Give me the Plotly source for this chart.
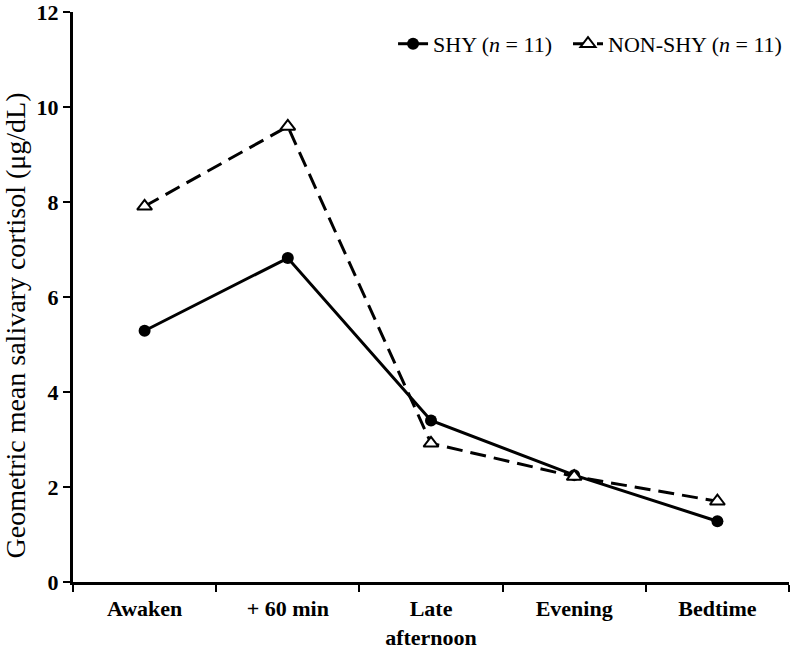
import plotly.graph_objects as go

categories = ["Awaken", "+ 60 min", "Late<br>afternoon", "Evening", "Bedtime"]
shy_values = [5.29, 6.82, 3.40, 2.25, 1.28]
nonshy_values = [7.91, 9.59, 2.92, 2.22, 1.70]
y_ticks = [0, 2, 4, 6, 8, 10, 12]
y_title = "Geometric mean salivary cortisol (μg/dL)"

serif = "Liberation Serif"

fig = go.Figure()
fig.add_trace(go.Scatter(
    x=categories, y=shy_values, mode="lines+markers",
    name="SHY (<i>n</i> = 11)&nbsp;&nbsp;",
    line=dict(color="black", width=3),
    marker=dict(symbol="circle", size=12, color="black"),
))
fig.add_trace(go.Scatter(
    x=categories, y=nonshy_values, mode="lines+markers",
    name="NON-SHY (<i>n</i> = 11)",
    line=dict(color="black", width=3, dash="16px,8px"),
    marker=dict(symbol="triangle-up", size=13, color="white",
                line=dict(color="black", width=2)),
))

fig.add_annotation(
    text=y_title, textangle=-90, xref="paper", yref="paper",
    x=-0.081, y=0.45, xanchor="center", yanchor="middle", showarrow=False,
    font=dict(family=serif, size=28, color="black"),
)

fig.update_layout(
    width=793, height=649,
    margin=dict(l=73, r=4, t=12, b=67, autoexpand=False),
    paper_bgcolor="white", plot_bgcolor="white",
    font=dict(family=serif, color="black"),
    showlegend=True,
    legend=dict(orientation="h", x=0.447, xanchor="left", y=0.944, yanchor="middle",
                font=dict(family=serif, size=22, color="black"),
                bgcolor="rgba(0,0,0,0)", tracegroupgap=0),
    xaxis=dict(
        type="category", showline=True, linecolor="black", linewidth=3,
        ticks="outside", tickson="boundaries", ticklen=7, tickwidth=2, tickcolor="black",
        tickfont=dict(family=serif, size=22, color="black", weight="bold"),
        ticklabelstandoff=5,
        showgrid=False, zeroline=False, range=[-0.5, 4.5], automargin=False,
    ),
    yaxis=dict(
        range=[0, 12], tickvals=y_ticks, showline=True, linecolor="black", linewidth=3,
        ticks="outside", ticklen=7, tickwidth=2, tickcolor="black",
        tickfont=dict(family=serif, size=22, color="black", weight="bold"),
        ticklabeloverflow="allow",
        showgrid=False, zeroline=False, automargin=False,
    ),
)

fig.write_html("out.html", config={"displayModeBar": False},
               post_script="document.body.style.margin='0';")
